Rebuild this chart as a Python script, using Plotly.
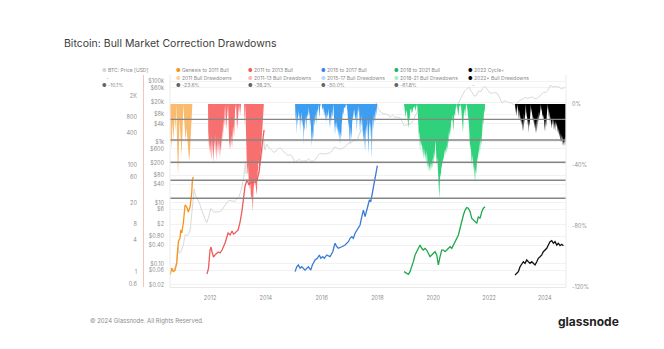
import plotly.graph_objects as go
import pandas as pd

# ---------------- DATA ----------------
price_dates = [
    "2010-07-26", "2010-08-15", "2010-09-15", "2010-10-15", "2010-11-08", "2010-11-25", "2010-12-15",
    "2011-01-15", "2011-02-10", "2011-03-15", "2011-04-15", "2011-05-10", "2011-05-25", "2011-06-08",
    "2011-06-25", "2011-07-15", "2011-08-15", "2011-09-15", "2011-10-15", "2011-11-18", "2011-12-15",
    "2012-01-10", "2012-02-15", "2012-03-15", "2012-04-15", "2012-05-15", "2012-06-15", "2012-07-15",
    "2012-08-15", "2012-09-15", "2012-10-15", "2012-11-15", "2012-12-15",
    "2013-01-15", "2013-02-15", "2013-03-15", "2013-04-09", "2013-04-17", "2013-05-15", "2013-06-15",
    "2013-07-05", "2013-08-15", "2013-09-15", "2013-10-15", "2013-11-15", "2013-12-04", "2013-12-18",
    "2014-01-15", "2014-02-15", "2014-03-15", "2014-04-15", "2014-05-15", "2014-06-15", "2014-07-15",
    "2014-08-15", "2014-09-15", "2014-10-15", "2014-11-15", "2014-12-15",
    "2015-01-15", "2015-02-15", "2015-03-15", "2015-04-15", "2015-05-15", "2015-06-15", "2015-07-15",
    "2015-08-15", "2015-09-15", "2015-10-15", "2015-11-15", "2015-12-15",
    "2016-01-15", "2016-02-15", "2016-03-15", "2016-04-15", "2016-05-15", "2016-06-15", "2016-07-15",
    "2016-08-15", "2016-09-15", "2016-10-15", "2016-11-15", "2016-12-15",
    "2017-01-15", "2017-02-15", "2017-03-15", "2017-04-15", "2017-05-15", "2017-06-15", "2017-07-15",
    "2017-08-15", "2017-09-15", "2017-10-15", "2017-11-15", "2017-12-17", "2017-12-28",
    "2018-01-15", "2018-02-15", "2018-03-15", "2018-04-15", "2018-05-15", "2018-06-15", "2018-07-15",
    "2018-08-15", "2018-09-15", "2018-10-15", "2018-11-15", "2018-12-15",
    "2019-01-15", "2019-02-15", "2019-03-15", "2019-04-15", "2019-05-15", "2019-06-15", "2019-06-26",
    "2019-07-15", "2019-08-15", "2019-09-15", "2019-10-15", "2019-11-15", "2019-12-15",
    "2020-01-15", "2020-02-15", "2020-03-12", "2020-03-25", "2020-04-15", "2020-05-15", "2020-06-15",
    "2020-07-15", "2020-08-15", "2020-09-15", "2020-10-15", "2020-11-15", "2020-12-15",
    "2021-01-15", "2021-02-15", "2021-03-15", "2021-04-14", "2021-05-15", "2021-06-22", "2021-07-15",
    "2021-08-15", "2021-09-15", "2021-10-15", "2021-11-08", "2021-12-15",
    "2022-01-15", "2022-02-15", "2022-03-15", "2022-04-15", "2022-05-15", "2022-06-18", "2022-07-15",
    "2022-08-15", "2022-09-15", "2022-10-15", "2022-11-21", "2022-12-15",
    "2023-01-15", "2023-02-15", "2023-03-15", "2023-04-15", "2023-05-15", "2023-06-15", "2023-07-15",
    "2023-08-15", "2023-09-15", "2023-10-15", "2023-11-15", "2023-12-15",
    "2024-01-15", "2024-02-15", "2024-03-14", "2024-04-15", "2024-05-15", "2024-06-15", "2024-07-15",
    "2024-08-05", "2024-08-25", "2024-09-15", "2024-10-01",
]
price_usd = [
    0.07, 0.07, 0.06, 0.10, 0.35, 0.22, 0.25,
    0.40, 0.90, 0.85, 1.2, 6, 8.5, 29,
    17, 14, 10, 5.5, 3.5, 2.2, 3.5,
    6.5, 5, 5, 5, 5.1, 6.3, 8.5,
    11, 12, 11.5, 11, 13.3,
    16, 28, 60, 230, 90, 120, 105,
    75, 105, 130, 170, 500, 1150, 550,
    850, 620, 560, 450, 500, 620, 620,
    500, 420, 360, 380, 330,
    210, 240, 270, 230, 240, 240, 280,
    230, 235, 270, 360, 430,
    400, 400, 415, 440, 500, 680, 650,
    575, 605, 640, 730, 900,
    950, 1050, 1100, 1250, 2000, 2600, 2500,
    4000, 4000, 5500, 8000, 19500, 14500,
    12000, 9500, 8500, 8000, 8000, 6500, 7500,
    6500, 6600, 6400, 5000, 3400,
    3600, 3800, 4000, 5200, 7500, 10500, 12500,
    10500, 10500, 9500, 8500, 8000, 7200,
    8500, 9700, 5000, 6500, 7000, 9200, 9400,
    9800, 11700, 10700, 12000, 17000, 24000,
    35000, 47000, 55000, 63000, 45000, 32000, 32500,
    47000, 45000, 60000, 67000, 48000,
    40000, 40000, 42000, 40000, 30000, 19000, 22000,
    22000, 19500, 19500, 16000, 16800,
    21000, 23500, 25000, 29000, 27000, 28000, 30000,
    27000, 26500, 30000, 37000, 42500,
    42000, 52000, 72000, 64000, 66000, 65000, 62000,
    54000, 59000, 60000, 62000,
]

# cycle lines: decimal year, multiple of the cycle-start price
genesis_t = [2010.566, 2010.600, 2010.627, 2010.655, 2010.685, 2010.746, 2010.775, 2010.806, 2010.864,
             2010.925, 2010.950, 2010.986, 2011.043, 2011.068, 2011.104, 2011.165, 2011.222, 2011.283,
             2011.344, 2011.366, 2011.401]
genesis_m = [0.89, 1.05, 1.20, 1.08, 1.03, 1.10, 1.22, 1.49, 3.74,
             4.38, 6.18, 5.44, 8.36, 10.8, 18.2, 16.7, 13.4, 16.7,
             30.5, 53, 61]

bull13_t = [2011.892, 2011.946, 2012.000, 2012.036, 2012.072, 2012.125, 2012.179, 2012.230, 2012.287,
            2012.360, 2012.430, 2012.538, 2012.600, 2012.645, 2012.717, 2012.789, 2012.840, 2012.896,
            2013.004, 2013.075, 2013.147, 2013.201, 2013.254, 2013.326, 2013.398, 2013.450, 2013.505,
            2013.613, 2013.685, 2013.756, 2013.792, 2013.864, 2013.935]
bull13_m = [0.93, 1.20, 2.61, 2.97, 2.40, 1.93, 2.11, 2.25, 2.40,
            2.30, 2.61, 3.53, 4.6, 5.44, 4.99, 5.93, 5.2, 5.44,
            6.18, 8.73, 14.6, 24.5, 41.2, 53.3, 43.0, 48, 46.9,
            48.9, 53.3, 75.3, 116, 241, 459]

bull17_t = [2015.047, 2015.108, 2015.165, 2015.226, 2015.287, 2015.405, 2015.523, 2015.609, 2015.667,
            2015.763, 2015.846, 2015.918, 2015.968, 2016.039, 2016.097, 2016.183, 2016.301, 2016.398,
            2016.444, 2016.480, 2016.541, 2016.599, 2016.720, 2016.839, 2016.957, 2017.018, 2017.079,
            2017.136, 2017.197, 2017.280, 2017.376, 2017.437, 2017.495, 2017.556, 2017.638, 2017.710,
            2017.760, 2017.806, 2017.853, 2017.914, 2017.950, 2017.996]
bull17_m = [1.03, 1.27, 1.37, 1.19, 1.27, 1.10, 1.27, 1.10, 1.37,
            1.70, 1.83, 2.11, 1.83, 1.96, 1.83, 2.11, 1.96, 2.43,
            3.01, 3.49, 3.01, 2.81, 3.01, 3.24, 3.74, 4.33, 4.63,
            4.33, 5.37, 6.18, 7.67, 11.0, 14.6, 11.0, 16.9, 22.5,
            20.9, 27.9, 34.7, 49.6, 71.2, 98.7]

bull21_t = [2018.953, 2019.025, 2019.108, 2019.168, 2019.229, 2019.287, 2019.348, 2019.409, 2019.466,
            2019.527, 2019.588, 2019.645, 2019.706, 2019.767, 2019.824, 2019.885, 2019.946, 2020.004,
            2020.065, 2020.125, 2020.183, 2020.244, 2020.305, 2020.362, 2020.423, 2020.484, 2020.541,
            2020.602, 2020.663, 2020.720, 2020.781, 2020.842, 2020.900, 2020.961, 2021.022, 2021.079,
            2021.140, 2021.201, 2021.258, 2021.319, 2021.380, 2021.437, 2021.498, 2021.559, 2021.616,
            2021.677, 2021.738, 2021.796, 2021.857]
bull21_m = [1.03, 0.96, 0.92, 1.03, 1.27, 1.58, 2.11, 2.43, 2.81,
            3.24, 2.81, 2.61, 2.81, 2.61, 2.27, 1.96, 2.11, 2.27,
            2.43, 2.11, 1.37, 1.96, 2.61, 2.61, 2.43, 2.61, 2.81,
            3.01, 2.81, 3.24, 3.74, 4.33, 4.99, 6.66, 9.52, 11.8,
            14.6, 16.2, 15.8, 13.6, 10.2, 9.52, 8.84, 8.26, 11.0,
            10.2, 13.6, 15.8, 16.9]

cycle22_t = [2022.932, 2022.993, 2023.050, 2023.111, 2023.172, 2023.229, 2023.290, 2023.351, 2023.409,
             2023.470, 2023.530, 2023.588, 2023.649, 2023.710, 2023.767, 2023.828, 2023.889, 2023.946,
             2024.007, 2024.068, 2024.125, 2024.186, 2024.247, 2024.305, 2024.366, 2024.427, 2024.484,
             2024.545, 2024.606, 2024.663]
cycle22_m = [0.89, 0.96, 1.03, 1.27, 1.47, 1.58, 1.47, 1.70, 1.58,
             1.47, 1.58, 1.47, 1.37, 1.58, 1.83, 1.96, 2.11, 2.43,
             2.61, 2.81, 3.24, 3.74, 3.90, 3.49, 3.74, 3.24, 3.49,
             3.15, 3.34, 3.15]

# drawdowns (%): decimal year, drawdown from the running high
dd11_t = [2010.566, 2010.584, 2010.620, 2010.656, 2010.691, 2010.727, 2010.763, 2010.792, 2010.817,
          2010.853, 2010.882, 2010.907, 2010.943, 2010.978, 2011.014, 2011.043, 2011.079, 2011.122,
          2011.158, 2011.194, 2011.229, 2011.265, 2011.301, 2011.337, 2011.366]
dd11_v = [0, -20, -29, -12, -24, -8, -18, 0, -25,
          -47, -30, -10, -22, -34, -18, 0, -12, -24,
          -16, -26, -33, -37, -22, -12, 0]

dd13_t = [2011.928, 2011.940, 2011.955, 2011.970, 2011.985, 2012.000, 2012.015, 2012.030, 2012.045,
          2012.060, 2012.075, 2012.090, 2012.105, 2012.120, 2012.135, 2012.150, 2012.165, 2012.180,
          2012.195, 2012.210, 2012.225, 2012.240, 2012.255, 2012.270, 2012.285, 2012.300, 2012.315,
          2012.330, 2012.345, 2012.360, 2012.375, 2012.390, 2012.405, 2012.420, 2012.435, 2012.450,
          2012.465, 2012.480, 2012.495, 2012.510, 2012.525, 2012.538,
          2012.573, 2012.609, 2012.645, 2012.681, 2012.717, 2012.753, 2012.788, 2012.824,
          2012.860, 2012.896, 2012.932, 2012.968, 2013.004, 2013.039, 2013.075, 2013.111, 2013.219,
          2013.237, 2013.262, 2013.290, 2013.326, 2013.362, 2013.398, 2013.434, 2013.470, 2013.505,
          2013.530, 2013.559, 2013.595, 2013.631, 2013.674, 2013.702, 2013.738, 2013.774, 2013.810,
          2013.846, 2013.882, 2013.910, 2013.928]
dd13_v = [0, -30, -18, -32, -22, -35, -25, -33, -20,
          -37, -28, -34, -24, -39, -27, -36, -22, -31,
          -20, -34, -26, -37, -24, -30, -21, -33, -25,
          -36, -22, -31, -27, -35, -20, -28, -17, -25,
          -12, -20, -10, -15, -5, 0,
          -17.0, -7.2, 0, -23.6, -30.2, -20.3, -28.9, -13.8,
          -22.3, -3.9, 0, -17.0, -10.5, 0, -7.2, 0, 0,
          -13.8, 0, -30.2, -46.6, -40.0, -56.4, -49.8, -63.0, -59.7,
          -70.8, -56.4, -49.8, -53.1, -59.7, -46.6, -36.7, -43.3, -30.2,
          -23.6, -13.8, -3.9, 0]

dd17_t = [2015.047, 2015.070, 2015.090, 2015.108, 2015.125, 2015.145, 2015.165, 2015.190, 2015.210,
          2015.226, 2015.245, 2015.265, 2015.287, 2015.310, 2015.330, 2015.344, 2015.360, 2015.385,
          2015.405, 2015.425, 2015.445, 2015.466, 2015.485, 2015.505, 2015.523, 2015.545, 2015.565,
          2015.584, 2015.605, 2015.625, 2015.645, 2015.660, 2015.680, 2015.702, 2015.720, 2015.745,
          2015.763, 2015.785, 2015.805, 2015.824, 2015.845, 2015.865, 2015.882, 2015.905, 2015.925,
          2015.943, 2015.965, 2016.003, 2016.030, 2016.061, 2016.090, 2016.110, 2016.135, 2016.160,
          2016.183, 2016.205, 2016.225, 2016.245, 2016.270, 2016.301, 2016.320, 2016.340, 2016.362,
          2016.385, 2016.405, 2016.419, 2016.440, 2016.460, 2016.480, 2016.500, 2016.520, 2016.541,
          2016.560, 2016.580, 2016.599, 2016.620, 2016.640, 2016.659, 2016.680, 2016.700, 2016.720,
          2016.740, 2016.760, 2016.778, 2016.800, 2016.839, 2016.870, 2016.900, 2016.930, 2016.957,
          2016.975, 2016.995, 2017.018, 2017.035, 2017.055, 2017.079, 2017.100, 2017.120, 2017.136,
          2017.160, 2017.180, 2017.197, 2017.220, 2017.240, 2017.258, 2017.280, 2017.300, 2017.315,
          2017.335, 2017.355, 2017.376, 2017.395, 2017.415, 2017.437, 2017.455, 2017.475, 2017.495,
          2017.515, 2017.535, 2017.556, 2017.575, 2017.595, 2017.617, 2017.635, 2017.655, 2017.674,
          2017.695, 2017.715, 2017.735, 2017.755, 2017.775, 2017.796, 2017.815, 2017.835, 2017.853,
          2017.875, 2017.895, 2017.914, 2017.935, 2017.955, 2017.975, 2017.996]
dd17_v = [0, -12, -5, -20, -8, -14, -4, -10, -6,
          -18, -9, -13, -5, -15, -10, -27, -14, -18,
          -8, -13, -7, -18, -6, -9, -2, -8, -5,
          -15, -9, -20, -28, -17, -24, -21, -10, -15,
          -6, -12, -4, -14, -3, -6, 0, -5, -9,
          -2, 0, 0, -4, -2, -8, -4, -11, -5,
          -12, -6, -9, -3, -10, -16, -8, -12, -5,
          -9, -3, 0, -8, -14, -20, -12, -17, -11,
          -19, -14, -22, -16, -21, -26, -18, -22, -13,
          -9, -5, -7, -2, -3, 0, -1, -6, -16,
          -10, -21, -27, -15, -23, -18, -8, -12, -4,
          -9, -3, -8, -11, -6, -18, -9, -3, -6,
          -1, -12, -20, -10, -15, -7, -14, -22, -25,
          -17, -24, -31, -19, -13, -20, -9, -22, -33,
          -16, -10, -22, -12, -18, -36, -17, -8, -17,
          -6, -10, -12, -4, -7, -3, 0]

dd21_t = [2018.953, 2018.980, 2019.007, 2019.030, 2019.061, 2019.085, 2019.108, 2019.130, 2019.151,
          2019.175, 2019.204, 2019.230, 2019.258, 2019.285, 2019.312, 2019.340, 2019.366, 2019.390,
          2019.419, 2019.445, 2019.466, 2019.485, 2019.505, 2019.527, 2019.545, 2019.565, 2019.588,
          2019.610, 2019.630, 2019.645, 2019.665, 2019.685, 2019.706, 2019.725, 2019.745, 2019.767,
          2019.785, 2019.805, 2019.824, 2019.845, 2019.865, 2019.885, 2019.905, 2019.925, 2019.946,
          2019.965, 2019.985, 2020.004, 2020.025, 2020.045, 2020.065, 2020.085, 2020.105, 2020.125,
          2020.145, 2020.165, 2020.183, 2020.200, 2020.219, 2020.235, 2020.255, 2020.275, 2020.290,
          2020.305, 2020.325, 2020.345, 2020.362, 2020.380, 2020.400, 2020.423, 2020.445, 2020.465,
          2020.484, 2020.505, 2020.525, 2020.541, 2020.560, 2020.580, 2020.602, 2020.620, 2020.640,
          2020.663, 2020.680, 2020.700, 2020.720, 2020.740, 2020.760, 2020.781, 2020.800, 2020.842,
          2020.870, 2020.900, 2020.930, 2020.961, 2020.990, 2021.022, 2021.045, 2021.065, 2021.085,
          2021.110, 2021.140, 2021.165, 2021.201, 2021.230, 2021.258, 2021.280, 2021.300, 2021.319,
          2021.340, 2021.360, 2021.380, 2021.400, 2021.420, 2021.437, 2021.455, 2021.475, 2021.498,
          2021.515, 2021.535, 2021.559, 2021.580, 2021.600, 2021.616, 2021.640, 2021.660, 2021.677,
          2021.700, 2021.720, 2021.738, 2021.760, 2021.780, 2021.796, 2021.820, 2021.840, 2021.857]
dd21_v = [0, -6, -9, -4, -6, -11, -16, -9, -10,
          -4, -3, -6, -5, -2, -3, -1, -5, -2,
          0, -5, -12, -22, -18, -31, -22, -28, -25,
          -33, -27, -30, -36, -29, -36, -32, -40, -30,
          -36, -42, -38, -44, -40, -45, -38, -43, -38,
          -42, -35, -40, -31, -36, -28, -24, -32, -40,
          -35, -44, -47, -55, -62, -52, -45, -48, -40,
          -43, -36, -40, -34, -37, -30, -34, -29, -32,
          -27, -30, -24, -26, -18, -22, -15, -20, -10,
          -12, -7, -15, -18, -10, -6, -8, -3, 0,
          -5, -8, -1, -2, 0, -6, -12, -19, -9,
          -3, -8, -2, 0, -4, -8, -14, -22, -31,
          -26, -38, -40, -33, -42, -44, -38, -47, -52,
          -42, -46, -40, -34, -38, -30, -34, -25, -31,
          -22, -27, -18, -20, -10, -14, -4, -6, 0]

dd22_t = [2022.932, 2022.950, 2022.965, 2022.993, 2023.010, 2023.020, 2023.050, 2023.070, 2023.090,
          2023.111, 2023.130, 2023.150, 2023.172, 2023.195, 2023.210, 2023.229, 2023.250, 2023.270,
          2023.290, 2023.305, 2023.320, 2023.340, 2023.351, 2023.375, 2023.395, 2023.409, 2023.430,
          2023.450, 2023.470, 2023.485, 2023.500, 2023.515, 2023.530, 2023.555, 2023.570, 2023.588,
          2023.610, 2023.630, 2023.649, 2023.670, 2023.690, 2023.710, 2023.730, 2023.750, 2023.767,
          2023.790, 2023.810, 2023.828, 2023.845, 2023.860, 2023.875, 2023.889, 2023.910, 2023.930,
          2023.946, 2023.965, 2023.985, 2024.007, 2024.025, 2024.045, 2024.068, 2024.085, 2024.100,
          2024.115, 2024.125, 2024.145, 2024.165, 2024.186, 2024.205, 2024.225, 2024.247, 2024.265,
          2024.285, 2024.305, 2024.325, 2024.345, 2024.366, 2024.385, 2024.405, 2024.427, 2024.445,
          2024.465, 2024.484, 2024.505, 2024.525, 2024.545, 2024.565, 2024.585, 2024.606, 2024.625,
          2024.645, 2024.663, 2024.685, 2024.705, 2024.724, 2024.745]
dd22_v = [0, -6, -2, -8, -3, 0, -5, -10, -4,
          -12, -7, -14, -9, -18, -11, -18, -6, -13,
          -8, -3, 0, -9, -5, -14, -8, -19, -11,
          -15, -9, -4, 0, -6, -3, -11, -6, -13,
          -8, -16, -12, -19, -10, -19, -13, -8, -12,
          -5, -9, -4, -2, 0, -5, -3, -9, -6,
          -11, -7, -14, -18, -10, -15, -8, -3, 0,
          -5, -2, -9, -5, -13, -8, -12, -16, -9,
          -14, -10, -17, -12, -18, -11, -15, -12, -19,
          -14, -20, -16, -22, -19, -25, -20, -25, -21,
          -27, -24, -28, -22, -27, -21]

fib_levels = [-10.1, -23.6, -38.2, -50.0, -61.8]

price_tickvals = [100000, 60000, 20000, 8000, 4000, 1000, 600, 200, 80, 40, 10, 6, 2, 0.8, 0.4, 0.1, 0.06, 0.02]
price_ticktext = ["$100k", "$60k", "$20k", "$8k", "$4k", "$1k", "$600", "$200", "$80", "$40", "$10", "$6",
                  "$2", "$0.80", "$0.40", "$0.10", "$0.06", "$0.02"]
mult_tickvals = [2000, 800, 400, 100, 60, 20, 8, 4, 1, 0.6]
mult_ticktext = ["2K", "800", "400", "100", "60", "20", "8", "4", "1", "0.6"]
dd_tickvals = [0, -40, -80, -120]
dd_ticktext = ["0%", "-40%", "-80%", "-120%"]

legend_rows = [
    [("BTC: Price [USD]", "#d6d6d6"), ("Genesis to 2011 Bull", "#f7931a"), ("2011 to 2013 Bull", "#f05a5a"),
     ("2015 to 2017 Bull", "#3b82f6"), ("2018 to 2021 Bull", "#22b35e"), ("2022 Cycle+", "#000000")],
    [("-", None), ("2011 Bull Drawdowns", "#fcd29e"), ("2011-13 Bull Drawdowns", "#f9b8b8"),
     ("2015-17 Bull Drawdowns", "#b9d8fb"), ("2018-21 Bull Drawdowns", "#a9ecc4"), ("2022+ Bull Drawdowns", "#000000")],
    [("-10.1%", "#666666"), ("-23.6%", "#666666"), ("-38.2%", "#666666"), ("-50.0%", "#666666"),
     ("-61.8%", "#666666"), ("-", None)],
]


# ---------------- helpers ----------------
def to_dates(years):
    out = []
    for y in years:
        yi = int(y)
        start = pd.Timestamp(year=yi, month=1, day=1)
        end = pd.Timestamp(year=yi + 1, month=1, day=1)
        out.append(start + (end - start) * (y - yi))
    return out


W, H = 664, 349
PL, PR, PT, PB = 170, 566, 75, 287  # plot area in px

fig = go.Figure()

# BTC price (gray)
fig.add_trace(go.Scatter(x=pd.to_datetime(price_dates), y=price_usd, mode="lines",
                         line=dict(color="#d9d9d9", width=1), yaxis="y", hoverinfo="skip"))

# drawdown fills
dd_series = [
    (dd11_t, dd11_v, "#f9bb6e"),
    (dd13_t, dd13_v, "#f76f6f"),
    (dd17_t, dd17_v, "#3d9df0"),
    (dd21_t, dd21_v, "#2fd27a"),
    (dd22_t, dd22_v, "#000000"),
]
for t, v, c in dd_series:
    fig.add_trace(go.Scatter(x=to_dates(t), y=v, mode="lines", fill="tozeroy",
                             line=dict(width=0, color=c), fillcolor=c, yaxis="y2", hoverinfo="skip"))

# cycle lines
cycle_series = [
    (genesis_t, genesis_m, "#f7931a"),
    (bull13_t, bull13_m, "#f05a5a"),
    (bull17_t, bull17_m, "#3a7bd5"),
    (bull21_t, bull21_m, "#1fa84a"),
    (cycle22_t, cycle22_m, "#111111"),
]
for t, m, c in cycle_series:
    fig.add_trace(go.Scatter(x=to_dates(t), y=m, mode="lines", line=dict(color=c, width=1.3),
                             yaxis="y3", hoverinfo="skip"))

shapes = []
for lvl in fib_levels:
    shapes.append(dict(type="line", xref="x domain", x0=0, x1=1, yref="y2", y0=lvl, y1=lvl,
                       line=dict(color="#858585", width=1.4), layer="above"))
shapes.append(dict(type="line", xref="x domain", x0=0, x1=0, yref="y domain", y0=0, y1=1,
                   line=dict(color="#ececec", width=1)))
shapes.append(dict(type="line", xref="x domain", x0=1, x1=1, yref="y domain", y0=0, y1=1,
                   line=dict(color="#ececec", width=1)))

annotations = []
annotations.append(dict(text="Bitcoin: Bull Market Correction Drawdowns", x=62 / W, y=1 - 44 / H,
                        xref="paper", yref="paper", xanchor="left", yanchor="middle", showarrow=False,
                        font=dict(family="Inter", size=10.5, color="#3c3c3c")))
annotations.append(dict(text="© 2024 Glassnode. All Rights Reserved.", x=88 / W, y=1 - 321 / H,
                        xref="paper", yref="paper", xanchor="left", yanchor="middle", showarrow=False,
                        font=dict(family="Inter", size=6, color="#8c8c8c")))
annotations.append(dict(text="<b>glassnode</b>", x=621 / W, y=1 - 321 / H,
                        xref="paper", yref="paper", xanchor="right", yanchor="middle", showarrow=False,
                        font=dict(family="Inter", size=12, color="#222222")))

col_x = [100, 174, 246, 319, 392, 466]
row_y = [70, 77.5, 85]
for r, row in enumerate(legend_rows):
    for c, (label, color) in enumerate(row):
        if color is None:
            txt = "   " + label
        else:
            txt = "<span style='color:%s'>●</span> %s" % (color, label)
        annotations.append(dict(text=txt, x=col_x[c] / W, y=1 - row_y[r] / H, xref="paper", yref="paper",
                                xanchor="left", yanchor="middle", showarrow=False,
                                font=dict(family="Inter", size=5, color="#8a8a8a")))

tickfont = dict(family="Inter", size=5.5, color="#8f8f8f")
fig.update_layout(
    width=W, height=H, margin=dict(l=0, r=0, t=0, b=0), template="none",
    paper_bgcolor="white", plot_bgcolor="white", showlegend=False,
    font=dict(family="Inter", size=5.5, color="#8f8f8f"),
    xaxis=dict(domain=[PL / W, PR / W], type="date", range=["2010-07-26", "2024-10-04"],
               tickformat="%Y", dtick="M24", tick0="2012-01-01", showgrid=False, showline=True,
               linecolor="#e8e8e8", ticks="", tickfont=tickfont, zeroline=False, automargin=False,
               ticklabelstandoff=5),
    yaxis=dict(domain=[1 - PB / H, 1 - PT / H], type="log", range=[-1.765, 5.1975],
               tickvals=price_tickvals, ticktext=price_ticktext, showgrid=True, gridcolor="#f2f2f2",
               zeroline=False, ticks="", side="left", anchor="x", tickfont=tickfont, automargin=False,
               ticklabelstandoff=5),
    yaxis2=dict(overlaying="y", side="right", anchor="x", range=[-120, 19.0], tickvals=dd_tickvals,
                ticktext=dd_ticktext, showgrid=False, zeroline=False, ticks="", tickfont=tickfont,
                automargin=False, ticklabelstandoff=5),
    yaxis3=dict(overlaying="y", side="left", anchor="free", position=143 / W, type="log",
                range=[-0.275, 3.691], tickvals=mult_tickvals, ticktext=mult_ticktext, showgrid=False,
                showline=True, linecolor="#f6c4bc", linewidth=1, zeroline=False, ticks="",
                tickfont=tickfont, automargin=False, ticklabelstandoff=5),
    shapes=shapes, annotations=annotations,
)

fig.write_html("out.html")
